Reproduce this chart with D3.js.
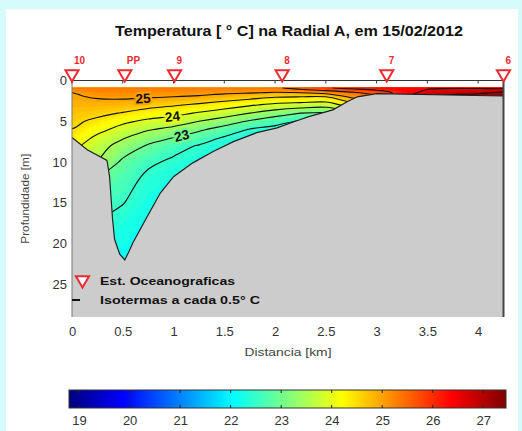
<!DOCTYPE html>
<html>
<head>
<meta charset="utf-8">
<script src="https://cdn.jsdelivr.net/npm/d3@7"></script>
<style>
  body { margin: 0; background: #d6fbfb; }
  svg { display: block; font-family: "Liberation Sans", Arial, sans-serif; }
</style>
</head>
<body>
<div id="chart"></div>
<script>
// stations along the radial
var stationNames = ["10", "PP", "9", "8", "7", "6"];
var stationKm = [0, 0.52, 1.01, 2.07, 3.1, 4.25];

// temperature grid, one row per depth
var gridKm = [0, 0.25, 0.5, 0.75, 1, 1.25, 1.5, 1.75, 2, 2.25, 2.5, 2.75, 3, 3.5, 4, 4.25];
var gridDepth = [0.9, 1.5, 2, 3, 4, 5, 6, 7, 8, 10, 12, 15, 18, 23];
var tempRows = [
  [25.40, 25.35, 25.35, 25.35, 25.35, 25.35, 25.35, 25.38, 25.42, 25.70, 25.95, 26.15, 26.30, 26.40, 26.45, 26.50],
  [25.00, 25.20, 25.20, 25.20, 25.15, 25.12, 25.08, 25.03, 24.96, 25.00, 25.17, 25.40, 25.70, 26.70, 26.90, 27.10],
  [24.94, 25.05, 25.08, 25.05, 25.00, 24.95, 24.80, 24.68, 24.54, 24.50, 24.50, 25.10, 25.40, 27.10, 27.30, 27.40],
  [24.83, 24.83, 24.80, 24.67, 24.55, 24.41, 24.25, 24.06, 23.88, 23.80, 23.72, 24.20, 24.60, 27.10, 27.30, 27.40],
  [24.72, 24.62, 24.47, 24.27, 24.15, 23.95, 23.75, 23.50, 23.25, 23.00, 22.95, 23.30, 23.80, 27.10, 27.30, 27.40],
  [24.60, 24.40, 24.10, 23.90, 23.75, 23.50, 23.25, 22.95, 22.67, 22.45, 22.50, 22.70, 23.00, 27.10, 27.30, 27.40],
  [24.49, 24.15, 23.82, 23.54, 23.36, 23.08, 22.80, 22.47, 22.35, 22.20, 22.30, 22.40, 22.60, 27.10, 27.30, 27.40],
  [24.35, 23.90, 23.55, 23.24, 23.00, 22.75, 22.46, 22.30, 22.20, 22.10, 22.20, 22.30, 22.40, 27.10, 27.30, 27.40],
  [24.15, 23.70, 23.32, 22.95, 22.65, 22.47, 22.30, 22.20, 22.10, 22.05, 22.10, 22.20, 22.30, 27.10, 27.30, 27.40],
  [23.70, 23.50, 22.90, 22.58, 22.42, 22.30, 22.20, 22.10, 22.05, 22.00, 22.05, 22.10, 22.20, 27.10, 27.30, 27.40],
  [23.30, 23.00, 22.70, 22.40, 22.28, 22.20, 22.10, 22.05, 22.00, 22.00, 22.00, 22.05, 22.10, 27.10, 27.30, 27.40],
  [22.80, 22.60, 22.52, 22.25, 22.15, 22.10, 22.05, 22.00, 22.00, 22.00, 22.00, 22.00, 22.05, 27.10, 27.30, 27.40],
  [22.40, 22.45, 22.27, 22.15, 22.08, 22.05, 22.00, 22.00, 22.00, 22.00, 22.00, 22.00, 22.00, 27.10, 27.30, 27.40],
  [22.10, 22.15, 22.12, 22.05, 22.00, 22.00, 22.00, 22.00, 22.00, 22.00, 22.00, 22.00, 22.00, 27.10, 27.30, 27.40]
];

// sea floor profile
var bottomKm = [0, 0.15, 0.345, 0.37, 0.40, 0.42, 0.47, 0.52, 0.56, 0.60, 0.74, 0.87, 1.0, 1.19, 1.39, 1.59, 1.82, 2.02, 2.2, 2.34, 2.57, 2.71, 2.81, 3.0, 4.25];
var bottomDepth = [7.0, 8.5, 9.8, 11.8, 17.1, 19.5, 21.3, 22.0, 21.0, 19.9, 16.7, 13.8, 11.8, 10.1, 8.7, 7.5, 6.4, 5.8, 5.0, 4.4, 3.6, 2.6, 2.0, 1.6, 1.9];

// isotherms every 0.5 C and their labels
var isoLevels = [22.5, 23, 23.5, 24, 24.5, 25, 25.5, 26, 26.5, 27];
var labelTemps = [25, 24, 23];
var labelKm = [0.70, 0.99, 1.08];

// ticks
var kmTicks = [0, 0.5, 1, 1.5, 2, 2.5, 3, 3.5, 4];
var depthTicks = [0, 5, 10, 15, 20, 25];
var colorTicks = [19, 20, 21, 22, 23, 24, 25, 26, 27];

var width = 522, height = 431;
var svg = d3.select("#chart").append("svg")
  .attr("width", width)
  .attr("height", height);

svg.append("rect")
  .attr("x", 6).attr("y", 9)
  .attr("width", 512).attr("height", 422)
  .attr("fill", "#fff");

var x = d3.scaleLinear().domain([0, 4.25]).range([72, 503.5]);
var y = d3.scaleLinear().domain([0, 29]).range([80.5, 317]);

// matlab jet colormap
var cMin = 18.8, cMax = 27.45;
var jetStops = [0, 1 / 8, 3 / 8, 5 / 8, 7 / 8, 1];
var jetColors = ["#00007f", "#0000ff", "#00ffff", "#ffff00", "#ff0000", "#7f0000"];
var color = d3.scaleLinear()
  .domain(jetStops.map(function(f) { return cMin + f * (cMax - cMin); }))
  .range(jetColors)
  .clamp(true);

var defs = svg.append("defs");
defs.append("clipPath").attr("id", "dataClip")
  .append("rect")
  .attr("x", x(0)).attr("y", y(gridDepth[0]))
  .attr("width", x(4.25) - x(0))
  .attr("height", y(29) - y(gridDepth[0]));

// grid index -> km / depth
var nx = gridKm.length, ny = gridDepth.length;
var values = [].concat.apply([], tempRows);
var gx = d3.scaleLinear().domain(d3.range(nx)).range(gridKm);
var gy = d3.scaleLinear().domain(d3.range(ny)).range(gridDepth);
var contourGen = d3.contours().size([nx, ny]).smooth(true);

var ringLine = d3.line()
  .x(function(p) { return x(gx(p[0] - 0.5)); })
  .y(function(p) { return y(gy(p[1] - 0.5)); })
  .curve(d3.curveCatmullRomClosed.alpha(0.5));

function geomPath(geom) {
  var d = "";
  geom.coordinates.forEach(function(poly) {
    poly.forEach(function(ring) { d += ringLine(ring.slice(0, -1)); });
  });
  return d;
}

var field = svg.append("g").attr("clip-path", "url(#dataClip)");

field.append("rect")
  .attr("x", x(0)).attr("y", y(0))
  .attr("width", x(4.25) - x(0)).attr("height", y(29) - y(0))
  .attr("fill", color(21.95));

// smooth fill: stacked superlevel sets
var fillLevels = d3.range(220, 275, 1).map(function(v) { return v / 10; });
field.selectAll("path.band")
  .data(fillLevels)
  .enter().append("path")
  .attr("class", "band")
  .attr("fill-rule", "evenodd")
  .attr("fill", function(t) { return color(t + 0.05); })
  .attr("d", function(t) { return geomPath(contourGen.contour(values, t)); });

// isotherms
field.selectAll("path.iso")
  .data(isoLevels)
  .enter().append("path")
  .attr("class", "iso")
  .attr("fill", "none")
  .attr("stroke", "#111")
  .attr("stroke-width", 1.1)
  .attr("d", function(t) { return geomPath(contourGen.contour(values, t)); });

// sea floor
var floorArea = d3.area()
  .x(function(d, i) { return x(bottomKm[i]); })
  .y0(y(29))
  .y1(function(d) { return y(d); });
var floorLine = d3.line()
  .x(function(d, i) { return x(bottomKm[i]); })
  .y(function(d) { return y(d); });

field.append("path")
  .attr("d", floorArea(bottomDepth))
  .attr("fill", "#cccccc");
field.append("path")
  .attr("d", floorLine(bottomDepth))
  .attr("fill", "none")
  .attr("stroke", "#222")
  .attr("stroke-width", 1.2);

// contour labels
function bottomAt(k) {
  var i = d3.bisectRight(bottomKm, k);
  i = Math.max(1, Math.min(bottomKm.length - 1, i));
  var t = (k - bottomKm[i - 1]) / (bottomKm[i] - bottomKm[i - 1]);
  return bottomDepth[i - 1] + t * (bottomDepth[i] - bottomDepth[i - 1]);
}

labelTemps.forEach(function(T, li) {
  var k = labelKm[li];
  var geom = contourGen.contour(values, T);
  var best = null;
  geom.coordinates.forEach(function(poly) {
    poly.forEach(function(ring) {
      for (var j = 1; j < ring.length; j++) {
        var a = [gx(ring[j - 1][0] - 0.5), gy(ring[j - 1][1] - 0.5)];
        var b = [gx(ring[j][0] - 0.5), gy(ring[j][1] - 0.5)];
        if (a[0] === b[0] || (a[0] - k) * (b[0] - k) > 0) continue;
        var f = (k - a[0]) / (b[0] - a[0]);
        var dep = a[1] + f * (b[1] - a[1]);
        if (dep < 1 || dep > bottomAt(k)) continue;
        if (!best || dep < best.dep) best = { dep: dep, a: a, b: b };
      }
    });
  });
  if (!best) return;
  var ang = Math.atan2(y(best.b[1]) - y(best.a[1]), x(best.b[0]) - x(best.a[0])) * 180 / Math.PI;
  if (ang > 90) ang -= 180;
  if (ang < -90) ang += 180;
  svg.append("text")
    .attr("transform", "translate(" + x(k) + "," + y(best.dep) + ") rotate(" + ang + ")")
    .attr("text-anchor", "middle")
    .attr("dy", "0.36em")
    .style("font-size", "13.5px")
    .style("font-weight", "bold")
    .attr("fill", "#111")
    .attr("stroke", color(T))
    .attr("stroke-width", 4)
    .attr("paint-order", "stroke")
    .text(T);
});

// axes frame
svg.append("line")
  .attr("x1", x(0)).attr("x2", x(4.25))
  .attr("y1", y(0)).attr("y2", y(0))
  .attr("stroke", "#333").attr("stroke-width", 1);
svg.append("line")
  .attr("x1", x(0)).attr("x2", x(0))
  .attr("y1", y(0)).attr("y2", y(29))
  .attr("stroke", "#777").attr("stroke-width", 1);
svg.append("line")
  .attr("x1", x(4.25)).attr("x2", x(4.25))
  .attr("y1", y(0)).attr("y2", y(29))
  .attr("stroke", "#444").attr("stroke-width", 2);

svg.selectAll("line.toptick")
  .data(kmTicks)
  .enter().append("line")
  .attr("class", "toptick")
  .attr("x1", function(d) { return x(d); })
  .attr("x2", function(d) { return x(d); })
  .attr("y1", y(0)).attr("y2", y(0) + 3)
  .attr("stroke", "#333");

var xAxis = svg.append("g")
  .attr("transform", "translate(0," + y(29) + ")")
  .call(d3.axisBottom(x).tickValues(kmTicks).tickSize(0).tickPadding(10).tickFormat(d3.format("~g")));
var yAxis = svg.append("g")
  .attr("transform", "translate(" + x(0) + ",0)")
  .call(d3.axisLeft(y).tickValues(depthTicks).tickSize(0).tickPadding(5));
[xAxis, yAxis].forEach(function(g) {
  g.select(".domain").remove();
  g.selectAll("text")
    .style("font-size", "13px")
    .style("font-family", "Liberation Sans, Arial, sans-serif")
    .attr("fill", "#333");
});

svg.append("text")
  .attr("x", 288).attr("y", 356)
  .attr("text-anchor", "middle")
  .style("font-size", "11.5px")
  .attr("textLength", 87)
  .attr("lengthAdjust", "spacingAndGlyphs")
  .attr("fill", "#444")
  .text("Distancia [km]");

svg.append("text")
  .attr("transform", "translate(25," + y(14.5) + ") rotate(-90)")
  .attr("text-anchor", "middle")
  .attr("dy", "0.35em")
  .style("font-size", "10.5px")
  .attr("textLength", 90)
  .attr("lengthAdjust", "spacingAndGlyphs")
  .attr("fill", "#444")
  .text("Profundidade [m]");

svg.append("text")
  .attr("x", 289).attr("y", 36)
  .attr("text-anchor", "middle")
  .style("font-size", "14px")
  .style("font-weight", "bold")
  .attr("textLength", 348)
  .attr("lengthAdjust", "spacingAndGlyphs")
  .attr("fill", "#111")
  .text("Temperatura [ \u00b0 C] na Radial A, em 15/02/2012");

// stations
var tri = d3.symbol().type(d3.symbolTriangle).size(75);
var st = svg.selectAll("g.station")
  .data(stationNames)
  .enter().append("g")
  .attr("class", "station")
  .attr("transform", function(d, i) { return "translate(" + x(stationKm[i]) + "," + (y(0) - 6.5) + ")"; });
st.append("path")
  .attr("d", tri)
  .attr("transform", "rotate(180)")
  .attr("fill", "#fff")
  .attr("stroke", "#ee2a30")
  .attr("stroke-width", 2);
st.append("text")
  .attr("x", 2).attr("y", -10.5)
  .style("font-size", "10px")
  .style("font-weight", "bold")
  .attr("fill", "#ee2a30")
  .text(function(d) { return d; });

// legend
var leg = svg.append("g").style("font-size", "11.5px").style("font-weight", "bold");
leg.append("path")
  .attr("d", tri)
  .attr("transform", "translate(82.5,280) rotate(180)")
  .attr("fill", "#fff")
  .attr("stroke", "#ee2a30")
  .attr("stroke-width", 2);
leg.append("text").attr("x", 100).attr("y", 285)
  .attr("textLength", 135).attr("lengthAdjust", "spacingAndGlyphs")
  .attr("fill", "#111").text("Est. Oceanograficas");
leg.append("line")
  .attr("x1", 72).attr("x2", 80).attr("y1", 300).attr("y2", 300)
  .attr("stroke", "#111").attr("stroke-width", 2);
leg.append("text").attr("x", 100).attr("y", 304)
  .attr("textLength", 160).attr("lengthAdjust", "spacingAndGlyphs")
  .attr("fill", "#111").text("Isotermas a cada 0.5\u00b0 C");

// colorbar
var cb = d3.scaleLinear().domain([cMin, cMax]).range([69, 506]);
var grad = defs.append("linearGradient").attr("id", "jet")
  .attr("x1", "0%").attr("x2", "100%").attr("y1", "0%").attr("y2", "0%");
grad.selectAll("stop")
  .data(jetStops)
  .enter().append("stop")
  .attr("offset", function(d) { return (d * 100) + "%"; })
  .attr("stop-color", function(d, i) { return jetColors[i]; });

svg.append("rect")
  .attr("x", cb(cMin)).attr("y", 390)
  .attr("width", cb(cMax) - cb(cMin)).attr("height", 18)
  .attr("fill", "url(#jet)")
  .attr("stroke", "#333").attr("stroke-width", 1);

svg.selectAll("g.cbtick")
  .data(colorTicks)
  .enter().append("g")
  .attr("class", "cbtick")
  .each(function(d) {
    var g = d3.select(this);
    g.append("line").attr("x1", cb(d)).attr("x2", cb(d)).attr("y1", 390).attr("y2", 393).attr("stroke", "#222");
    g.append("line").attr("x1", cb(d)).attr("x2", cb(d)).attr("y1", 405).attr("y2", 408).attr("stroke", "#222");
  });

var cAxis = svg.append("g")
  .attr("transform", "translate(0,408)")
  .call(d3.axisBottom(cb).tickValues(colorTicks).tickSize(0).tickPadding(8));
cAxis.select(".domain").remove();
cAxis.selectAll("text")
  .style("font-size", "13px")
  .style("font-family", "Liberation Sans, Arial, sans-serif")
  .attr("fill", "#333");
</script>
</body>
</html>
